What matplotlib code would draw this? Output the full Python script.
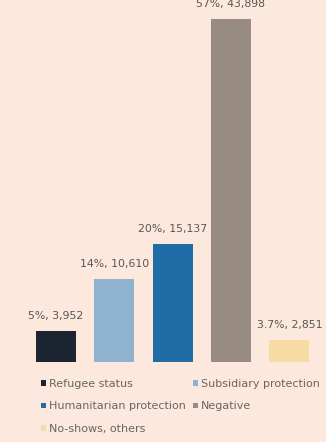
import matplotlib.pyplot as plt
from matplotlib.patches import Patch

categories = ['Refugee status', 'Subsidiary protection', 'Humanitarian protection',
              'Negative', 'No-shows, others']
values = [3952, 10610, 15137, 43898, 2851]
labels = ['5%, 3,952', '14%, 10,610', '20%, 15,137', '57%, 43,898', '3.7%, 2,851']
colors = ['#1b2430', '#8fb3cf', '#1f6da6', '#988b82', '#f6dba2']

bg = '#fce8dc'
fig = plt.figure(figsize=(3.26, 4.42), dpi=100, facecolor=bg)
ax = fig.add_axes([0, 0.181, 1, 0.819])
ax.set_facecolor(bg)

x = range(len(values))
ax.bar(x, values, width=0.69, color=colors)
for i, (v, lab) in enumerate(zip(values, labels)):
    ax.text(i, v + 1300, lab, ha='center', va='bottom', fontsize=7.8, color='#5a5550')

ax.set_xlim(-0.96, 4.63)
ax.set_ylim(0, 46330)
ax.axis('off')

# legend fills column-wise
order = [0, 2, 4, 1, 3]
handles = [Patch(facecolor=colors[i], label=categories[i]) for i in order]
fig.legend(handles=handles, ncol=2, loc='upper left', bbox_to_anchor=(0.125, 0.142),
           frameon=False, fontsize=8, handlelength=0.45, handleheight=0.45,
           handletextpad=0.3, columnspacing=0.6, labelspacing=1.1,
           labelcolor='#6a6560', borderaxespad=0, borderpad=0)

fig.savefig('out.png', dpi=100, facecolor=bg)
